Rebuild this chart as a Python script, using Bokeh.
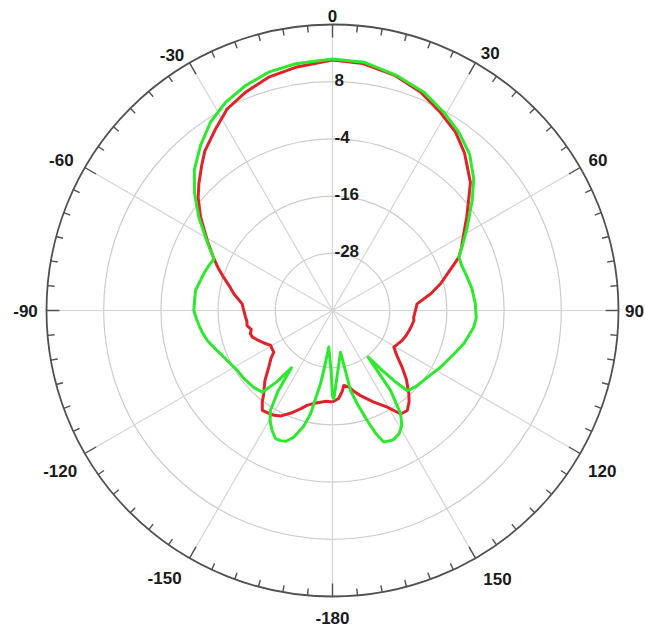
import math
from bokeh.plotting import figure
from bokeh.embed import file_html
from bokeh.resources import INLINE
from bokeh.core.properties import value

# ---------------- data ----------------
green_deg = [-180, -178.9, -176.7, -174.2, -172, -170.7, -168, -166, -163, -160.5, -158.2, -156,
             -153.3, -150.5, -148.2, -146, -144.4, -142, -139.3, -134.3, -128, -122.2, -118,
             -113.2, -108, -103.5, -99, -94.2, -90, -81.7, -74.1, -70, -66.5, -63, -60, -55.1,
             -49.6, -44.5, -38.7, -32.9, -27.2, -21.1, -15, -8.5, 0, 7.2, 15.4, 22.7, 29.3, 35.3,
             41.3, 47, 51.8, 58.3, 63, 67.1, 71, 76.1, 81, 87.3, 93, 97, 104.2, 110, 117.7, 122,
             127.5, 132, 135, 137, 138.8, 140.2, 142.6, 144, 146.6, 149, 151.7, 155, 158.7, 160.5,
             162.5, 165, 167.3, 169.1, 172.5, 175.9, 179.1, 180]
green_db = [-21.8, -26.9, -30.1, -32.3, -28.0, -24.4, -17.8, -15.0, -12.2, -10.9, -10.6, -10.6,
            -11.8, -13.4, -15.3, -19.5, -25.2, -21.0, -17.4, -16.9, -16.6, -16.4, -15.9,
            -15.2, -14.1, -13.0, -12.2, -11.5, -10.9, -10.95, -11.9, -12.4, -12.9, -11.0, -9.25, -5.8,
            -2.0, 1.35, 4.3, 7.1, 9.1, 10.6, 11.76, 12.35, 12.75, 12.5, 11.1, 9.65, 7.7, 5.85,
            3.6, 0.5, -2.7, -6.8, -9.3, -11.2, -11.3, -10.9, -10.4, -10.0, -9.8, -10.2, -11.6, -13.0, -14.4, -15.2,
            -15.9, -16.3, -16.7, -17.0, -20.5, -23.5, -27.7, -19.3, -14.0, -11.8, -10.6, -10.0, -10.4, -12.5,
            -15.8, -19.5, -22.8, -31.1, -29.2, -26.3, -21.5, -21.8]

red_deg = [-180, -176, -172.5, -169, -165, -162, -158, -154, -150.8, -148, -144.9, -142.5, -140.5,
           -136, -131.7, -128, -125.4, -122, -119.4, -115, -111, -108.4, -105.9, -103, -100, -97,
           -94.4, -89, -85.8, -80.4, -77, -73, -70, -66.5, -60.8, -54.7, -50, -46.5, -42, -38.7,
           -32.8, -27.6, -21.7, -15.3, -8.6, 0, 7, 15, 22, 28.6, 34.6, 40, 47.1, 50.3, 55, 59.7,
           64, 67.1, 72.3, 76, 80.3, 85.5, 90, 94.7, 97, 101, 105, 109, 113.3, 117, 120.9, 125,
           129.1, 133, 137.5, 140, 143.2, 146.6, 150.5, 156, 161.8, 165, 168, 171.4, 173, 176, 180]
red_db = [-20.8, -20.9, -20.6, -20.2, -19.4, -18.3, -16.8, -15.4, -14.8, -14.6, -14.4, -15.8, -17.3,
          -19.6, -22.1, -23.6, -24.9, -25.0, -25.1, -24.0, -23.0, -22.3, -22.1, -22.5, -21.8, -21.9,
          -21.7, -21.3, -21.0, -19.0, -17.9, -16.1, -14.6, -12.9, -9.9, -6.1, -3.2, -1.35, 1.0, 2.85,
          5.3, 7.7, 9.3, 10.75, 11.6, 12.55, 12.2, 11.0, 9.4, 7.3, 5.45, 3.1, -0.5, -2.8, -5.6, -8.1,
          -9.9, -11.2, -14.7, -16.6, -19.1, -22.2, -22.6, -22.9, -22.8, -23.1, -23.4, -23.7, -24.1, -24.6, -25.0, -23.5,
          -21.2, -18.8, -16.3, -15.0, -13.8, -14.0, -16.7, -19.0, -21.2, -22.4, -23.6, -24.1, -23.0, -21.5, -20.8]

ring_db = [-28, -16, -4, 8]
ring_labels = ["-28", "-16", "-4", "8"]
r_min, r_max = -40, 20
angle_ticks = [0, 30, 60, 90, 120, 150, 180, -150, -120, -90, -60, -30]
angle_labels = ["0", "30", "60", "90", "120", "150", "-180", "-150", "-120", "-90", "-60", "-30"]

# ---------------- layout ----------------
W, H = 645, 632
R = 286.0
cx_px, cy_px = 332, 310
label_radius = [295, 302, 305, 302, 314, 315, 307, 316, 316, 307, 310, 302]
label_angle = [0, 31.5, 60.5, 90, 120.8, 148.4, 180, -147.9, -120.5, -90, -61, -32.1]

p = figure(width=W, height=H, output_backend="svg", toolbar_location=None,
           x_range=(-cx_px, W - cx_px), y_range=(cy_px - H, cy_px),
           min_border=0, outline_line_color=None, background_fill_color="white")
p.axis.visible = False
p.grid.visible = False


def rad(db):
    return max(0.0, (db - r_min) / (r_max - r_min) * R)


def to_xy(deg, dbs):
    xs, ys = [], []
    for a, d in zip(deg, dbs):
        r = rad(d)
        t = math.radians(a)
        xs.append(r * math.sin(t))
        ys.append(r * math.cos(t))
    return xs, ys

# rings
p.circle(x=[0] * len(ring_db), y=[0] * len(ring_db), radius=[rad(d) for d in ring_db],
         fill_color=None, line_color="#cccccc", line_width=1.2)

# spokes
sx0, sy0, sx1, sy1 = [], [], [], []
for a in range(0, 360, 30):
    t = math.radians(a)
    sx0.append(0); sy0.append(0)
    sx1.append(R * math.sin(t)); sy1.append(R * math.cos(t))
p.segment(sx0, sy0, sx1, sy1, line_color="#d4d4d4", line_width=1.2)

# outer circle
p.circle(x=[0], y=[0], radius=[R], fill_color=None, line_color="#505050", line_width=1.8)

# ticks
tx0, ty0, tx1, ty1 = [], [], [], []
for a in range(0, 360, 5):
    t = math.radians(a)
    L = 13 if a % 30 == 0 else 7
    tx0.append(R * math.sin(t)); ty0.append(R * math.cos(t))
    tx1.append((R - L) * math.sin(t)); ty1.append((R - L) * math.cos(t))
p.segment(tx0, ty0, tx1, ty1, line_color="#505050", line_width=1.4)

# curves
rx, ry = to_xy(red_deg, red_db)
gx, gy = to_xy(green_deg, green_db)
p.line(rx, ry, line_color="#e0222a", line_width=3, line_join="round")
p.line(gx, gy, line_color="#2ee82e", line_width=3, line_join="round")

# ring labels
p.text(x=[2] * len(ring_db), y=[rad(d) + 2 for d in ring_db], text=ring_labels,
       text_align="left", text_baseline="middle", text_font=value("Liberation Sans"),
       text_font_size="17px", text_font_style="bold", text_color="#1a1a1a")

# angle labels
lx = [r * math.sin(math.radians(a)) for a, r in zip(label_angle, label_radius)]
ly = [r * math.cos(math.radians(a)) for a, r in zip(label_angle, label_radius)]
p.text(x=lx, y=ly, text=angle_labels, text_align="center", text_baseline="middle",
       text_font=value("Liberation Sans"), text_font_size="17px", text_font_style="bold",
       text_color="#1a1a1a")

open("out.html", "w").write(file_html(p, INLINE))
